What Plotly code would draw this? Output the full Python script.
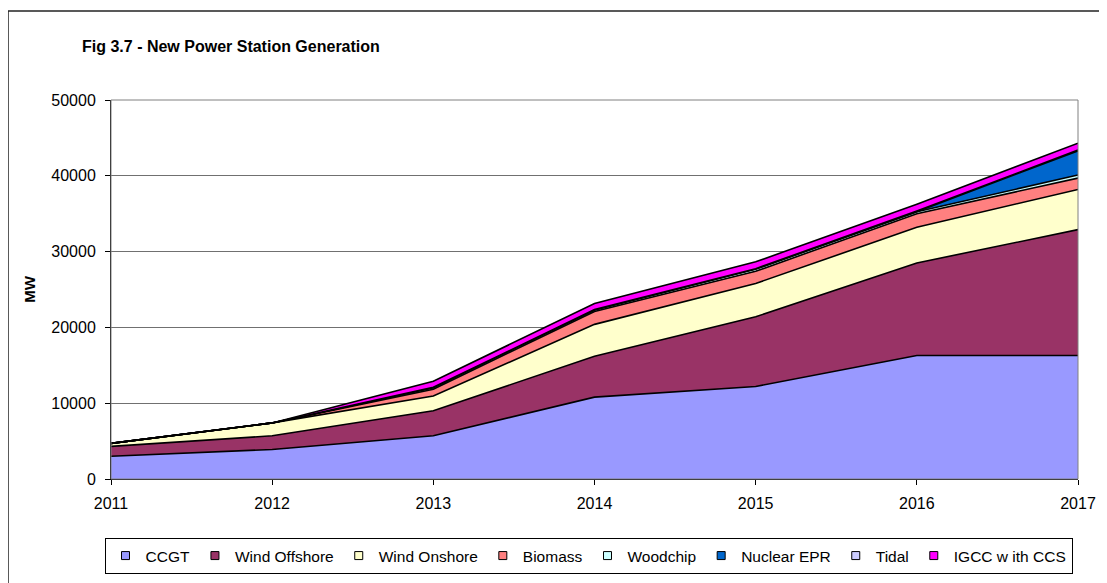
import plotly.graph_objects as go

years = [2011, 2012, 2013, 2014, 2015, 2016, 2017]
series_names = ["CCGT", "Wind Offshore", "Wind Onshore", "Biomass", "Woodchip",
                "Nuclear EPR", "Tidal", "IGCC w ith CCS"]
ccgt = [3000, 3900, 5700, 10800, 12200, 16300, 16300]
wind_offshore = [1300, 1800, 3300, 5400, 9200, 12200, 16600]
wind_onshore = [400, 1700, 1950, 4200, 4400, 4700, 5300]
biomass = [0, 0, 900, 1700, 1600, 1800, 1500]
woodchip = [0, 0, 200, 200, 300, 250, 400]
nuclear_epr = [0, 0, 0, 0, 0, 0, 3200]
tidal = [0, 0, 50, 50, 50, 100, 100]
igcc_ccs = [0, 0, 800, 800, 900, 900, 900]
y_ticks = [0, 10000, 20000, 30000, 40000, 50000]

values = [ccgt, wind_offshore, wind_onshore, biomass, woodchip, nuclear_epr, tidal, igcc_ccs]
colors = ["#9999FF", "#993366", "#FFFFCC", "#FF8080", "#CCFFFF", "#0066CC", "#CCCCFF", "#FF00FF"]

FONT = "Liberation Sans, Arial, sans-serif"

fig = go.Figure()
for name, vals, col in zip(series_names, values, colors):
    fig.add_trace(go.Scatter(
        x=years, y=vals, name=name, stackgroup="one", mode="lines",
        line=dict(color="black", width=1.6), fillcolor=col,
        showlegend=False, hoverinfo="x+y+name"))
for name, col in zip(series_names, colors):
    fig.add_trace(go.Scatter(
        x=[None], y=[None], name=name, mode="markers",
        marker=dict(symbol="square", size=8, color=col, line=dict(color="black", width=1)),
        showlegend=True))

# page is offset by the 8px body margin; plot area in page px: x 111..1078, y 100..479
def px_x(p):
    return (p - 111) / 967.0
def px_y(p):
    return (479 - p) / 379.0

W, H = 1099, 575

fig.update_layout(
    width=W, height=H,
    margin=dict(l=103, r=29, t=92, b=104, autoexpand=False),
    paper_bgcolor="white", plot_bgcolor="white",
    font=dict(family=FONT, size=15, color="black"),
    title=dict(text="<b>Fig 3.7 - New Power Station Generation</b>",
               xref="container", yref="container",
               x=(82 - 8) / W, xanchor="left", y=1 - (46 - 8) / H, yanchor="middle",
               font=dict(family=FONT, size=16, color="black")),
    xaxis=dict(range=[2011, 2017], tickvals=years, ticktext=[str(y) for y in years],
               showgrid=False, zeroline=False, showline=True, linecolor="black", linewidth=1,
               ticks="outside", ticklen=5, tickcolor="black", ticklabelstandoff=5,
               tickfont=dict(family=FONT, size=16, color="black")),
    yaxis=dict(range=[0, 50000], tickvals=y_ticks, tickformat="d",
               showgrid=True, gridcolor="#707070", gridwidth=1, zeroline=False,
               showline=True, linecolor="black", linewidth=1,
               ticks="outside", ticklen=5, tickcolor="black", ticklabelstandoff=6,
               title=dict(text="<b>MW</b>", standoff=12,
                          font=dict(family=FONT, size=15, color="black")),
               tickfont=dict(family=FONT, size=16, color="black")),
    legend=dict(orientation="h", x=px_x(588.5), xanchor="center",
                y=px_y(538), yanchor="top",
                bordercolor="black", borderwidth=1, bgcolor="white",
                font=dict(family=FONT, size=15.5, color="black"),
                traceorder="normal"),
    shapes=[
        dict(type="rect", xref="paper", yref="paper", x0=0, x1=1, y0=0, y1=1,
             line=dict(color="#808080", width=1), layer="above"),
        dict(type="line", xref="paper", yref="paper", x0=px_x(8), x1=px_x(1110),
             y0=px_y(11), y1=px_y(11), line=dict(color="#222222", width=1.5)),
        dict(type="line", xref="paper", yref="paper", x0=px_x(8), x1=px_x(8),
             y0=px_y(11), y1=px_y(590), line=dict(color="#222222", width=1.5)),
    ],
)

fig.write_html("out.html")
